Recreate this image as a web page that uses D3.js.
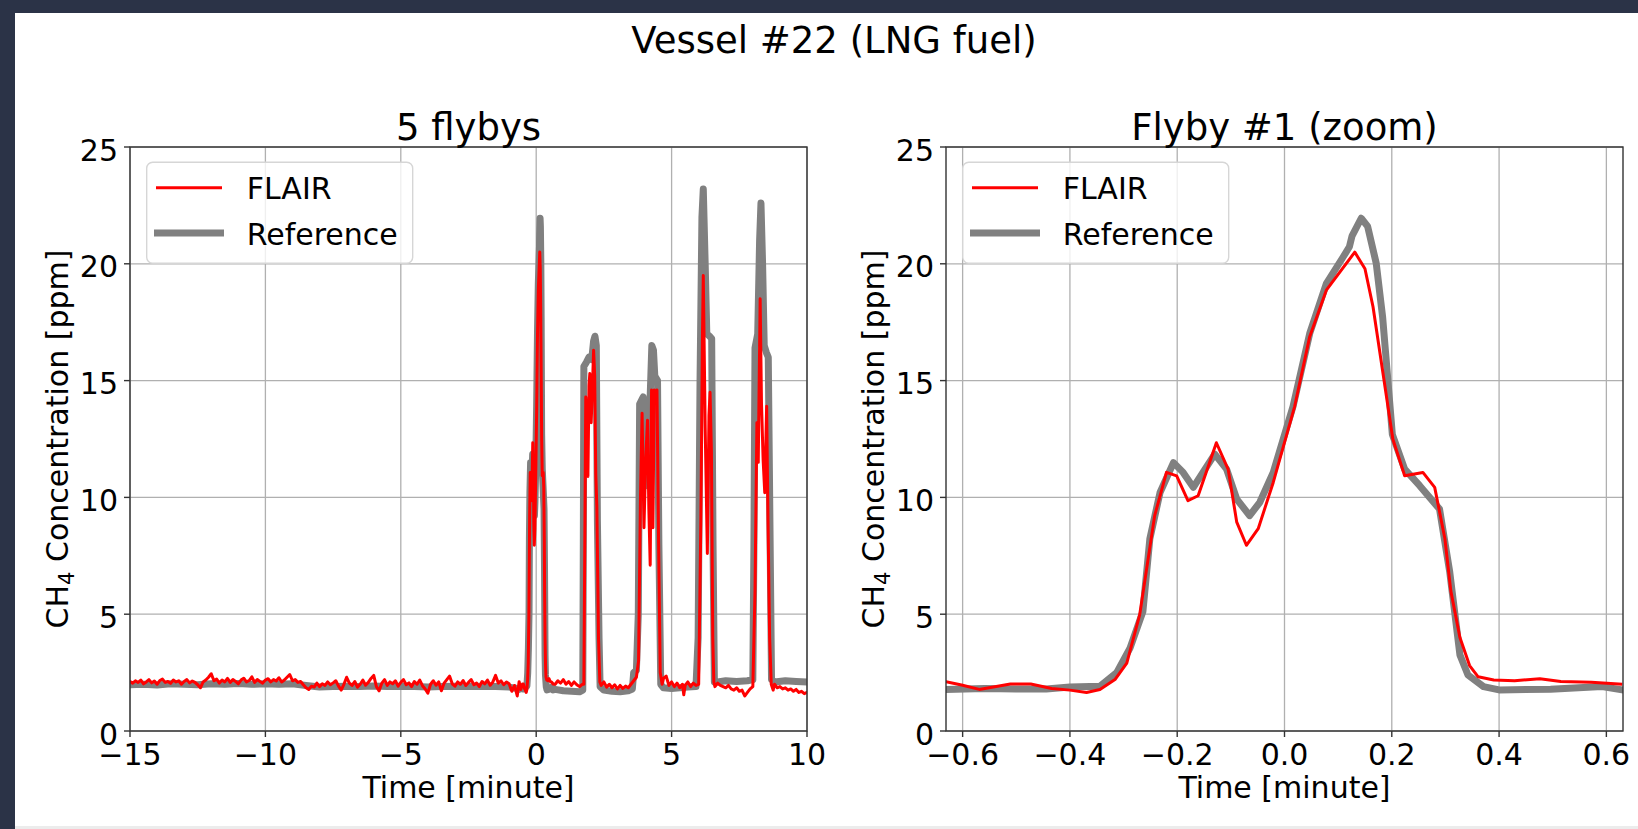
<!DOCTYPE html>
<html>
<head>
<meta charset="utf-8">
<script src="https://cdn.jsdelivr.net/npm/d3@7"></script>
<style>
    body { margin: 0; background: #2b3347; }
    svg { display: block; font-family: "DejaVu Sans", sans-serif; }
</style>
</head>
<body>
<div id="main-container"></div>
<script>
// time [minute], CH4 [ppm]

// FLAIR, before the zoom window (-15 .. -0.7)
const flairBefore = [
    [-15.0, 2.12], [-14.9, 2.05], [-14.8, 2.15], [-14.7, 2.08], [-14.6, 2.18], [-14.5, 2.02], [-14.4, 2.10], [-14.3, 2.20],
    [-14.2, 2.06], [-14.1, 2.14], [-14.0, 2.00], [-13.9, 2.16], [-13.8, 2.22], [-13.7, 2.08], [-13.6, 2.12], [-13.5, 2.04],
    [-13.4, 2.18], [-13.3, 2.10], [-13.2, 2.15], [-13.1, 2.00], [-13.0, 2.12], [-12.9, 2.20], [-12.8, 2.06], [-12.7, 2.14],
    [-12.6, 2.08], [-12.5, 1.98], [-12.4, 1.85], [-12.3, 2.10], [-12.2, 2.18], [-12.1, 2.30], [-12.0, 2.45], [-11.9, 2.15],
    [-11.8, 2.22], [-11.7, 2.05], [-11.6, 2.18], [-11.5, 2.10], [-11.4, 2.25], [-11.3, 2.08], [-11.2, 2.20], [-11.1, 2.12],
    [-11.0, 2.02], [-10.9, 2.18], [-10.8, 2.26], [-10.7, 2.10], [-10.6, 2.16], [-10.5, 2.32], [-10.4, 2.08], [-10.3, 2.20],
    [-10.2, 2.12], [-10.1, 2.05], [-10.0, 2.18], [-9.9, 2.24], [-9.8, 2.10], [-9.7, 2.20], [-9.6, 2.14], [-9.5, 2.28],
    [-9.4, 2.10], [-9.3, 2.18], [-9.2, 2.30], [-9.1, 2.42], [-9.0, 2.15], [-8.9, 2.20], [-8.8, 2.08], [-8.7, 2.12],
    [-8.6, 1.98], [-8.5, 1.85], [-8.4, 1.78], [-8.3, 1.92], [-8.2, 1.88], [-8.1, 2.05], [-8.0, 1.90], [-7.9, 2.02],
    [-7.8, 1.95], [-7.7, 2.10], [-7.6, 1.98], [-7.5, 2.06], [-7.4, 2.15], [-7.3, 1.92], [-7.2, 1.75], [-7.1, 2.00],
    [-7.0, 2.30], [-6.9, 2.05], [-6.8, 1.95], [-6.7, 2.12], [-6.6, 1.88], [-6.5, 2.00], [-6.4, 2.18], [-6.3, 1.96],
    [-6.2, 2.08], [-6.1, 2.25], [-6.0, 2.38], [-5.9, 1.90], [-5.8, 1.72], [-5.7, 2.05], [-5.6, 2.20], [-5.5, 1.95],
    [-5.4, 2.10], [-5.3, 2.02], [-5.2, 2.15], [-5.1, 1.92], [-5.0, 2.08], [-4.9, 2.20], [-4.8, 1.98], [-4.7, 2.06],
    [-4.6, 1.90], [-4.5, 2.12], [-4.4, 2.00], [-4.3, 2.18], [-4.2, 1.94], [-4.1, 1.80], [-4.0, 1.62], [-3.9, 2.00],
    [-3.8, 2.15], [-3.7, 1.96], [-3.6, 2.10], [-3.5, 1.72], [-3.4, 2.05], [-3.3, 2.20], [-3.2, 2.35], [-3.1, 2.02],
    [-3.0, 1.92], [-2.9, 2.10], [-2.8, 2.00], [-2.7, 2.16], [-2.6, 1.95], [-2.5, 2.08], [-2.4, 2.20], [-2.3, 1.98],
    [-2.2, 2.05], [-2.1, 1.90], [-2.0, 2.12], [-1.9, 2.02], [-1.8, 2.18], [-1.7, 1.96], [-1.6, 2.10], [-1.5, 2.38],
    [-1.4, 2.05], [-1.3, 2.15], [-1.2, 1.98], [-1.1, 2.10], [-1.0, 2.02], [-0.9, 1.70], [-0.8, 1.95], [-0.7, 1.50]
];

// FLAIR, flyby #1 (zoom window)
const flairZoom = [
    [-0.631, 2.11], [-0.602, 1.97], [-0.569, 1.78], [-0.511, 2.01], [-0.473, 2.01], [-0.434, 1.82], [-0.400, 1.75],
    [-0.369, 1.65], [-0.344, 1.78], [-0.316, 2.20], [-0.294, 2.91], [-0.270, 4.97], [-0.242, 9.22], [-0.220, 11.07],
    [-0.201, 10.92], [-0.180, 9.86], [-0.161, 10.07], [-0.127, 12.34], [-0.105, 11.20], [-0.089, 8.94], [-0.071, 7.95],
    [-0.049, 8.66], [-0.021, 10.64], [0.019, 13.90], [0.047, 16.88], [0.078, 18.87], [0.131, 20.50], [0.150, 19.79],
    [0.165, 18.16], [0.202, 12.49], [0.224, 10.93], [0.258, 11.07], [0.280, 10.43], [0.299, 8.23], [0.310, 6.00],
    [0.327, 4.00], [0.345, 2.80], [0.361, 2.32], [0.390, 2.18], [0.429, 2.15], [0.476, 2.24], [0.515, 2.12],
    [0.572, 2.09], [0.627, 2.01]
];

// FLAIR, after the zoom window (0.7 .. 10)
const flairAfter = [
    [0.7, 2.00], [0.8, 2.15], [0.9, 2.05], [1.0, 2.20], [1.1, 2.00], [1.2, 2.12], [1.3, 1.95], [1.4, 2.10], [1.5, 1.98],
    [1.6, 1.90], [1.7, 2.00], [1.76, 2.00], [1.80, 9.0], [1.83, 14.3], [1.87, 12.5], [1.91, 10.9], [1.95, 14.8],
    [1.98, 15.3], [2.03, 13.2], [2.07, 14.5], [2.12, 16.3], [2.16, 15.2], [2.20, 11.0], [2.24, 9.6], [2.30, 4.0],
    [2.35, 2.10], [2.4, 1.95], [2.5, 2.10], [2.6, 1.88], [2.7, 2.00], [2.8, 1.85], [2.9, 1.98], [3.0, 1.80], [3.1, 1.95],
    [3.2, 1.82], [3.3, 1.92], [3.4, 1.85], [3.5, 2.00], [3.6, 2.15], [3.7, 2.30], [3.78, 3.0], [3.85, 10.0],
    [3.91, 13.6], [3.98, 8.7], [4.04, 11.5], [4.11, 13.3], [4.16, 9.5], [4.21, 7.1], [4.26, 14.6], [4.31, 8.7],
    [4.36, 14.6], [4.42, 14.3], [4.46, 14.6], [4.52, 8.0], [4.58, 2.5], [4.65, 2.00], [4.7, 2.25], [4.8, 2.35],
    [4.9, 1.95], [5.0, 2.10], [5.1, 1.90], [5.2, 2.05], [5.3, 1.85], [5.4, 2.00], [5.45, 1.55], [5.5, 1.95], [5.6, 2.10],
    [5.7, 1.90], [5.8, 2.05], [5.9, 1.95], [6.0, 2.00], [6.08, 9.0], [6.14, 17.0], [6.17, 19.5], [6.24, 13.0],
    [6.32, 7.6], [6.38, 13.5], [6.42, 14.5], [6.47, 12.0], [6.52, 4.0], [6.56, 2.10], [6.6, 1.90], [6.7, 2.05],
    [6.8, 1.95], [6.9, 1.90], [7.0, 1.85], [7.1, 1.95], [7.2, 1.80], [7.3, 1.75], [7.4, 1.85], [7.5, 1.70], [7.6, 1.75],
    [7.7, 1.50], [7.8, 1.65], [7.9, 1.80], [8.0, 1.90], [8.08, 6.0], [8.15, 13.2], [8.20, 11.5], [8.27, 18.5],
    [8.32, 14.0], [8.38, 11.6], [8.44, 10.2], [8.51, 13.9], [8.56, 9.0], [8.62, 4.0], [8.68, 2.00], [8.75, 1.75],
    [8.8, 2.00], [8.9, 1.85], [9.0, 1.90], [9.1, 1.80], [9.2, 1.85], [9.3, 1.75], [9.4, 1.80], [9.5, 1.70], [9.6, 1.78],
    [9.7, 1.65], [9.8, 1.70], [9.9, 1.60], [10.0, 1.65]
];

// Reference instrument
const refBefore = [
    [-15.0, 1.98], [-14.5, 2.00], [-14.0, 1.97], [-13.5, 2.02], [-13.0, 2.00], [-12.5, 1.98], [-12.0, 2.02],
    [-11.5, 2.00], [-11.0, 2.03], [-10.5, 2.00], [-10.0, 2.02], [-9.5, 2.00], [-9.0, 2.02], [-8.5, 1.95],
    [-8.0, 1.88], [-7.5, 1.90], [-7.0, 1.92], [-6.5, 1.90], [-6.0, 1.93], [-5.5, 1.90], [-5.0, 1.92], [-4.5, 1.90],
    [-4.0, 1.88], [-3.5, 1.90], [-3.0, 1.92], [-2.5, 1.90], [-2.0, 1.92], [-1.5, 1.90], [-1.0, 1.88], [-0.7, 1.82]
];

const refZoom = [
    [-0.631, 1.78], [-0.559, 1.82], [-0.500, 1.80], [-0.444, 1.80], [-0.400, 1.88], [-0.344, 1.92], [-0.313, 2.49],
    [-0.288, 3.55], [-0.264, 5.11], [-0.251, 8.23], [-0.232, 10.21], [-0.207, 11.49], [-0.189, 11.07], [-0.170, 10.43],
    [-0.152, 11.07], [-0.130, 11.85], [-0.108, 11.21], [-0.089, 9.93], [-0.065, 9.22], [-0.046, 9.79], [-0.021, 11.07],
    [0.016, 13.90], [0.047, 17.02], [0.078, 19.15], [0.109, 20.28], [0.121, 20.73], [0.126, 21.20], [0.143, 21.95],
    [0.155, 21.60], [0.171, 20.02], [0.183, 17.70], [0.201, 12.70], [0.224, 11.21], [0.252, 10.50], [0.289, 9.50],
    [0.308, 6.81], [0.327, 3.26], [0.342, 2.40], [0.371, 1.90], [0.400, 1.76], [0.496, 1.79], [0.592, 1.90],
    [0.630, 1.76]
];

const refAfter = [
    [0.7, 1.78], [1.0, 1.72], [1.3, 1.70], [1.6, 1.68], [1.72, 1.75], [1.74, 8.0], [1.76, 15.6], [1.86, 15.8],
    [1.95, 16.0], [2.05, 15.9], [2.12, 16.7], [2.17, 16.9], [2.22, 16.5], [2.26, 9.0], [2.32, 4.0], [2.36, 1.90],
    [2.5, 1.75], [2.8, 1.70], [3.1, 1.68], [3.4, 1.72], [3.55, 1.80], [3.6, 2.50], [3.7, 2.60], [3.77, 5.0],
    [3.82, 14.0], [3.95, 14.3], [4.02, 11.0], [4.12, 10.5], [4.20, 14.0], [4.27, 16.5], [4.33, 16.3], [4.38, 15.2],
    [4.48, 15.0], [4.53, 8.0], [4.6, 2.00], [4.7, 1.85], [5.0, 1.82], [5.3, 1.85], [5.6, 1.88], [5.9, 1.90],
    [5.98, 4.0], [6.05, 15.0], [6.12, 22.0], [6.17, 23.2], [6.24, 20.0], [6.30, 17.0], [6.40, 16.9], [6.48, 16.8],
    [6.53, 8.0], [6.58, 2.10], [6.7, 2.10], [7.0, 2.15], [7.4, 2.12], [7.8, 2.15], [8.0, 2.20], [8.04, 8.0],
    [8.08, 16.4], [8.18, 17.0], [8.25, 21.0], [8.30, 22.6], [8.36, 20.0], [8.42, 16.5], [8.50, 16.2], [8.57, 16.0],
    [8.63, 9.0], [8.69, 2.20], [8.8, 2.10], [9.2, 2.15], [9.6, 2.12], [10.0, 2.10]
];

const yTicks = [0, 5, 10, 15, 20, 25];
const xTicksFull = [-15, -10, -5, 0, 5, 10];
const xTicksZoom = [-0.6, -0.4, -0.2, 0.0, 0.2, 0.4, 0.6];
const seriesNames = ["FLAIR", "Reference"];

const width = 1638, height = 829;
const plotTop = 147, plotBottom = 731;

const svg = d3.select("#main-container")
    .append("svg")
    .attr("width", width)
    .attr("height", height);

// white page area inside the dark frame, light strip at the bottom
svg.append("rect")
    .attr("x", 15).attr("y", 13)
    .attr("width", width - 15).attr("height", height - 13)
    .attr("fill", "white");
svg.append("rect")
    .attr("x", 15).attr("y", height - 3)
    .attr("width", width - 15).attr("height", 3)
    .attr("fill", "#ececec");

svg.append("text")
    .attr("x", 834)
    .attr("y", 53)
    .attr("text-anchor", "middle")
    .style("font-size", "37px")
    .text("Vessel #22 (LNG fuel)");

function drawPanel(id, left, right, domain, ticks, fmt, title, flair, ref) {
    const x = d3.scaleLinear().domain(domain).range([left, right]);
    const y = d3.scaleLinear().domain([0, 25]).range([plotBottom, plotTop]);
    const g = svg.append("g").attr("id", id);

    g.append("clipPath").attr("id", `clip-${id}`)
        .append("rect")
        .attr("x", left).attr("y", plotTop)
        .attr("width", right - left).attr("height", plotBottom - plotTop);

    // grid
    g.selectAll(".vgrid")
        .data(ticks)
        .join("line")
        .attr("x1", d => x(d)).attr("x2", d => x(d))
        .attr("y1", plotTop).attr("y2", plotBottom)
        .attr("stroke", "#b0b0b0").attr("stroke-width", 1.3);
    g.selectAll(".hgrid")
        .data(yTicks)
        .join("line")
        .attr("x1", left).attr("x2", right)
        .attr("y1", d => y(d)).attr("y2", d => y(d))
        .attr("stroke", "#b0b0b0").attr("stroke-width", 1.3);

    const line = d3.line()
        .x(d => x(d[0]))
        .y(d => y(d[1]));

    const lines = g.append("g").attr("clip-path", `url(#clip-${id})`);
    lines.append("path")
        .datum(ref)
        .attr("d", line)
        .attr("fill", "none")
        .attr("stroke", "#808080")
        .attr("stroke-width", 7)
        .attr("stroke-linejoin", "round")
        .attr("stroke-linecap", "square");
    lines.append("path")
        .datum(flair)
        .attr("d", line)
        .attr("fill", "none")
        .attr("stroke", "#ff0000")
        .attr("stroke-width", 3)
        .attr("stroke-linejoin", "round")
        .attr("stroke-linecap", "square");

    // frame
    g.append("rect")
        .attr("x", left).attr("y", plotTop)
        .attr("width", right - left).attr("height", plotBottom - plotTop)
        .attr("fill", "none")
        .attr("stroke", "#333")
        .attr("stroke-width", 1.4);

    // x ticks
    g.selectAll(".xtick")
        .data(ticks)
        .join("line")
        .attr("x1", d => x(d)).attr("x2", d => x(d))
        .attr("y1", plotBottom).attr("y2", plotBottom + 6)
        .attr("stroke", "#333").attr("stroke-width", 1.4);
    g.selectAll(".xlabel")
        .data(ticks)
        .join("text")
        .attr("x", d => x(d))
        .attr("y", 765)
        .attr("text-anchor", "middle")
        .style("font-size", "30px")
        .text(d => d3.format(fmt)(d));

    // y ticks
    g.selectAll(".ytick")
        .data(yTicks)
        .join("line")
        .attr("x1", left - 6).attr("x2", left)
        .attr("y1", d => y(d)).attr("y2", d => y(d))
        .attr("stroke", "#333").attr("stroke-width", 1.4);
    g.selectAll(".ylabel")
        .data(yTicks)
        .join("text")
        .attr("x", left - 12)
        .attr("y", d => y(d) + 13.5)
        .attr("text-anchor", "end")
        .style("font-size", "30px")
        .text(d => d);

    // titles
    g.append("text")
        .attr("x", (left + right) / 2)
        .attr("y", 140)
        .attr("text-anchor", "middle")
        .style("font-size", "37px")
        .text(title);
    g.append("text")
        .attr("x", (left + right) / 2)
        .attr("y", 798)
        .attr("text-anchor", "middle")
        .style("font-size", "30px")
        .text("Time [minute]");

    const yl = g.append("text")
        .attr("transform", `translate(${left - 62}, ${(plotTop + plotBottom) / 2}) rotate(-90)`)
        .attr("text-anchor", "middle")
        .style("font-size", "30px");
    yl.append("tspan").text("CH");
    yl.append("tspan").attr("dy", 6).style("font-size", "21px").text("4");
    yl.append("tspan").attr("dy", -6).text(" Concentration [ppm]");

    // legend
    const lg = g.append("g").attr("transform", `translate(${left + 16.7}, 162.3)`);
    lg.append("rect")
        .attr("width", 266).attr("height", 101)
        .attr("rx", 6).attr("ry", 6)
        .attr("fill", "white").attr("fill-opacity", 0.8)
        .attr("stroke", "#d6d6d6").attr("stroke-width", 1.4);
    const entries = [
        {name: seriesNames[0], colour: "#ff0000", w: 3, y: 25.4},
        {name: seriesNames[1], colour: "#808080", w: 7, y: 70.7}
    ];
    lg.selectAll(".entry-line")
        .data(entries)
        .join("line")
        .attr("x1", 10.8).attr("x2", 73.8)
        .attr("y1", d => d.y).attr("y2", d => d.y)
        .attr("stroke", d => d.colour)
        .attr("stroke-width", d => d.w)
        .attr("stroke-linecap", "square");
    lg.selectAll(".entry-text")
        .data(entries)
        .join("text")
        .attr("x", 100)
        .attr("y", d => d.y + 11.6)
        .style("font-size", "30px")
        .text(d => d.name);
}

drawPanel("full", 130, 807, [-15, 10], xTicksFull, "d", "5 flybys",
    flairBefore.concat(flairZoom, flairAfter), refBefore.concat(refZoom, refAfter));
drawPanel("zoom", 946, 1623, [-0.631, 0.631], xTicksZoom, ".1f", "Flyby #1 (zoom)",
    flairZoom, refZoom);
</script>
</body>
</html>
